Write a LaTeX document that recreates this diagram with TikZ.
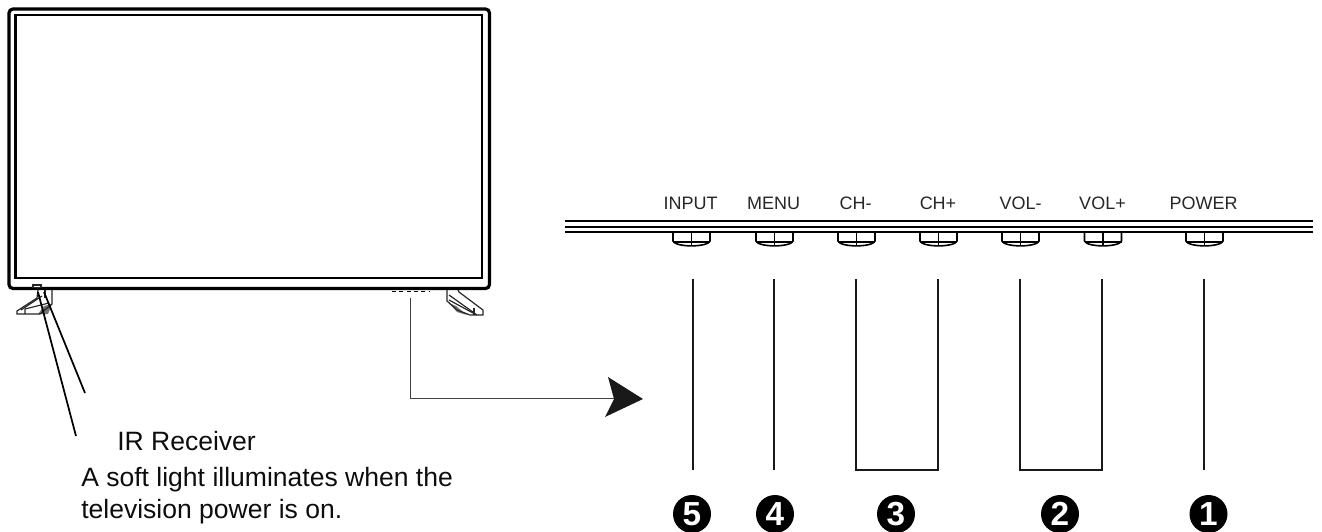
\documentclass[tikz,border=0pt]{standalone}
\usepackage{fontspec}
\setmainfont{Liberation Sans}
\tikzset{
  px/.style={x=0.75pt, y=-0.75pt},
  keylabel/.style={inner sep=0pt, anchor=base, font=\fontsize{13.5pt}{15pt}\selectfont, text=black!85},
  note/.style={inner sep=0pt, anchor=base west, font=\fontsize{19.9pt}{22pt}\selectfont, text=black!95},
  digit/.style={circle, fill=black, text=white, inner sep=0pt, minimum size=28.5pt, font=\fontsize{25pt}{26pt}\selectfont\bfseries},
  lead/.style={line width=1.4pt, black!90},
  stand/.style={line width=0.9pt, black!85},
  knob/.pic={
    \draw[line width=1.2pt] (-18.5,0) -- (-18.5,9) .. controls (-16,15.5) and (16,15.5) .. (18.5,9) -- (18.5,0);
    \draw[line width=1.1pt] (-18.5,10) -- (18.5,10);
    \draw[line width=1.1pt] (0,0) -- (0,14);
  },
}
\begin{document}
\begin{tikzpicture}[px]
  \useasboundingbox (0,0) rectangle (1322,532);

  \draw[line width=2.4pt, rounded corners=3pt] (9,9) rectangle (489.5,288.5);
  \draw[line width=1.7pt] (15.5,15) rectangle (482,278);

  \draw[stand, fill=white] (33,287.5) rectangle (41,285);
  \fill[black!55] (38,314) -- (48,314) -- (52,304) -- (44,306) -- cycle;
  \draw[stand] (45,290) -- (45,298);
  \draw[stand] (52,290) -- (52,304) -- (40,314) -- (17,314) -- (17,311) -- (37,298) -- (38,290);
  \draw[stand] (21,310) -- (42,296);
  \draw[stand] (25,314) -- (25,309) -- (49,303);
  \fill[black!55] (449,303) -- (457,312) -- (467,315) -- (456,306) -- cycle;
  \draw[stand] (447,290) -- (447,301) -- (457,310) -- (470,315) -- (483,315) -- (483,310) -- (459,292) -- (458,290);
  \draw[stand] (449,295) -- (477,315);
  \draw[stand] (449,300) -- (473,313);
  \draw[stand] (474,308) -- (474,315);
  \draw[line width=1pt, dash pattern=on 3pt off 2.5pt] (392,291.5) -- (430,291.5);

  \draw[line width=1pt] (565,221) -- (1313,221);
  \draw[line width=1pt] (565,227) -- (1313,227);
  \draw[line width=1pt] (565,232) -- (1313,232);

  \pic at (691.5,232) {knob};
  \pic at (774.5,232) {knob};
  \pic at (856.5,232) {knob};
  \pic at (938.5,232) {knob};
  \pic at (1020.5,232) {knob};
  \pic at (1103,232) {knob};
  \pic at (1204.5,232) {knob};

  \node[keylabel] (input) at (690.5,209) {INPUT};
  \node[keylabel] (menu) at (773.5,209) {MENU};
  \node[keylabel] (chm) at (855.5,209) {CH-};
  \node[keylabel] (chp) at (938,209) {CH+};
  \node[keylabel] (volm) at (1020.5,209) {VOL-};
  \node[keylabel] (volp) at (1102.5,209) {VOL+};
  \node[keylabel] (power) at (1203.5,209) {POWER};

  \node[digit] (n5) at (692,514) {5};
  \node[digit] (n4) at (775,514) {4};
  \node[digit] (n3) at (896,514) {3};
  \node[digit] (n2) at (1060,514) {2};
  \node[digit] (n1) at (1208.5,514) {1};

  \coordinate (a5) at (693,279);
  \coordinate (b5) at (693,470);
  \coordinate (a4) at (774,279);
  \coordinate (b4) at (774,470);
  \coordinate (a3l) at (856,279);
  \coordinate (a3r) at (938,279);
  \coordinate (a2l) at (1020,279);
  \coordinate (a2r) at (1102,279);
  \coordinate (a1) at (1204,279);
  \coordinate (b1) at (1204,470);
  \draw[lead] (a5) -- (b5);
  \draw[lead] (a4) -- (b4);
  \draw[lead] (a3l) -- (856,470) -- (938,470) -- (a3r);
  \draw[lead] (a2l) -- (1020,470) -- (1102,470) -- (a2r);
  \draw[lead] (a1) -- (b1);

  \coordinate (pad) at (410,298);
  \coordinate (tip) at (643,399);
  \draw[line width=0.7pt, black!75] (pad) -- (410,398) -- (620,398);
  \fill[black!90] (tip) -- (608,377) -- (614,399) -- (605,417) -- cycle;

  \coordinate (ir1) at (38,292);
  \coordinate (ir2) at (44,292);
  \coordinate (ire1) at (76,436);
  \coordinate (ire2) at (85,393);
  \draw[line width=1.3pt] (ir1) -- (ire1);
  \draw[line width=1.3pt] (ir2) -- (ire2);

  \node[note] (irlabel) at (117,450) {IR Receiver};
  \node[note] (soft) at (81,486) {A soft light illuminates when the};
  \node[note] (tvon) at (81,518) {television power is on.};
\end{tikzpicture}
\end{document}
